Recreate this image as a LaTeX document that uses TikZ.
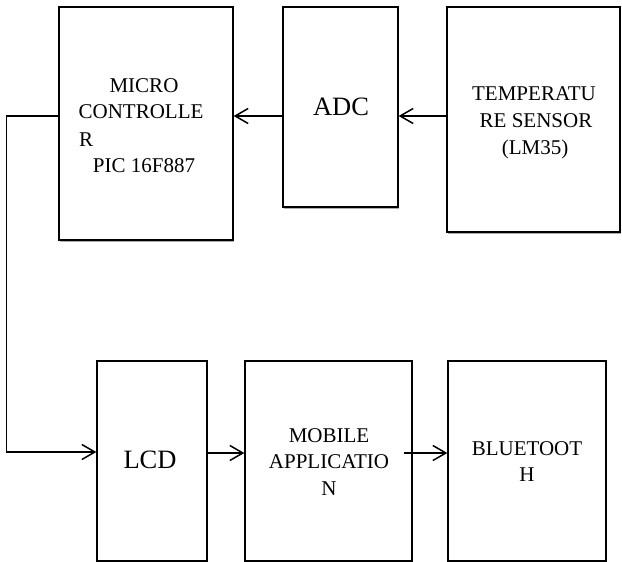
\documentclass[tikz,border=0pt]{standalone}
\usepackage{fontspec}
\setmainfont{Liberation Serif}
\usetikzlibrary{arrows.meta,shadows}
\begin{document}
\begin{tikzpicture}[x=1pt,y=-1pt,
  blk/.style={draw=black, line width=1.3pt, fill=white, rectangle, inner sep=0pt,
    drop shadow={shadow xshift=1.2pt, shadow yshift=-1.6pt, opacity=0.45, fill=black!70}},
  txt/.style={anchor=base, inner sep=0pt, font=\fontsize{21}{24}\selectfont},
  big/.style={anchor=base, inner sep=0pt, font=\fontsize{26.5}{30}\selectfont},
  arr/.style={line width=1.3pt, -{Straight Barb[length=13pt,width=15pt,line width=1.5pt]}}]
\useasboundingbox (0,0) rectangle (622,562);
% boxes
\node[blk, minimum width=174pt, minimum height=233pt] (mc) at (146,123.5) {};
\node[blk, minimum width=115pt, minimum height=200pt] (adc) at (340.5,107) {};
\node[blk, minimum width=173pt, minimum height=225pt] (temp) at (533.5,119.5) {};
\node[blk, minimum width=110pt, minimum height=200pt] (lcd) at (152,461) {};
\node[blk, minimum width=167pt, minimum height=200pt] (mob) at (328.5,461) {};
\node[blk, minimum width=158pt, minimum height=200pt] (bt) at (527,461) {};
% texts
\node[txt] (mc1) at (144,92) {MICRO};
\node[txt] (mc2) at (141,118) {CONTROLLE};
\node[txt, anchor=base west] (mc3) at (79,146) {R};
\node[txt] (mc4) at (144,172) {PIC 16F887};
\node[big] (adct) at (341,115) {ADC};
\node[txt] (t1) at (534,100) {TEMPERATU};
\node[txt] (t2) at (536,127) {RE SENSOR};
\node[txt] (t3) at (535,154) {(LM35)};
\node[big] (lcdt) at (150,468) {LCD};
\node[txt] (m1) at (329,442) {MOBILE};
\node[txt] (m2) at (329,468) {APPLICATIO};
\node[txt] (m3) at (329,495) {N};
\node[txt] (b1) at (527,455) {BLUETOOT};
\node[txt] (b2) at (527,481) {H};
% connectors
\draw[arr] (temp.west |- 0,116) -- (adc.east |- 0,116);
\draw[arr] (adc.west |- 0,116) -- (mc.east |- 0,116);
\draw[arr] (mc.west |- 0,116) -- ++(-52,0) |- (lcd.west |- 0,452);
\draw[arr] (lcd.east |- 0,453) -- (mob.west |- 0,453);
\draw[arr] ([xshift=-9pt]mob.east |- 0,453) -- (bt.west |- 0,453);
\end{tikzpicture}
\end{document}
